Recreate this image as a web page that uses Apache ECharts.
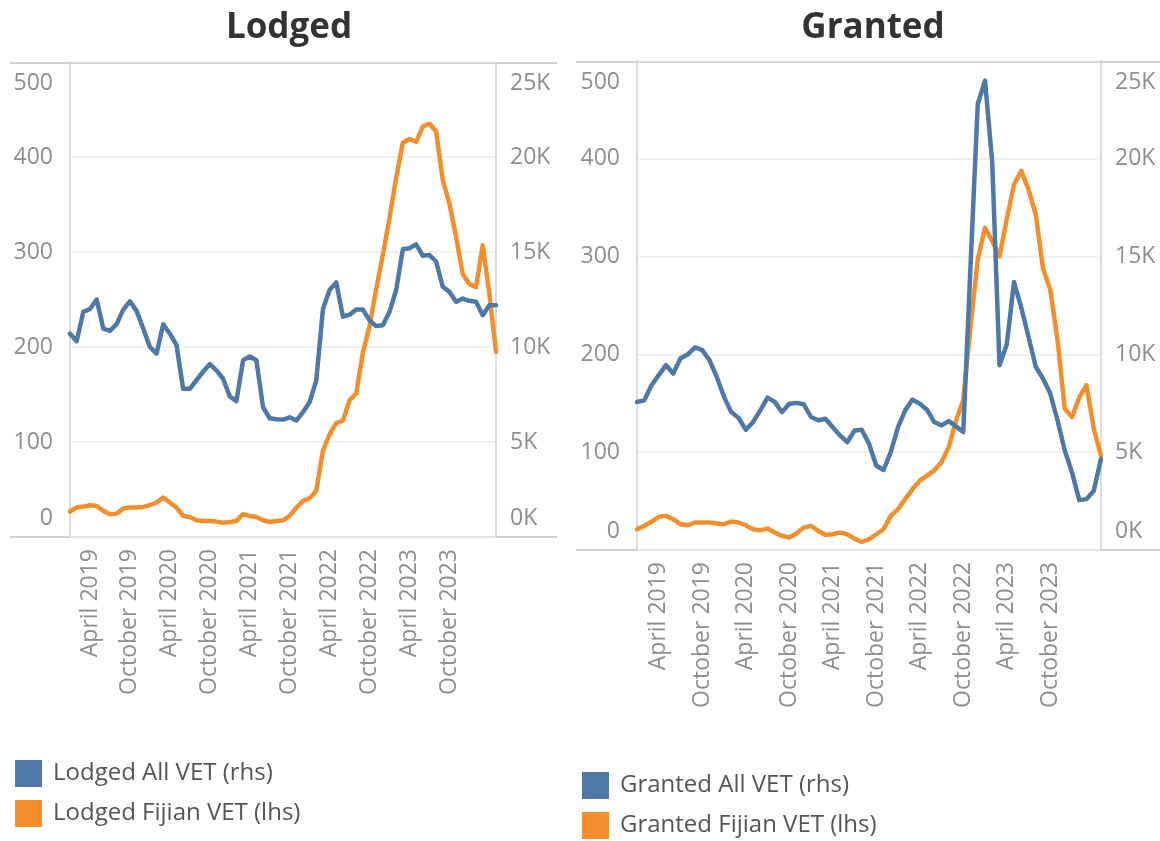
<!DOCTYPE html>
<html lang="en">
<head>
<meta charset="utf-8">
<title>Lodged / Granted VET</title>
<script src="https://cdn.jsdelivr.net/npm/echarts@6/dist/echarts.min.js"></script>
<style>
  html, body { margin: 0; padding: 0; background: #fff; }
  #main { width: 1160px; height: 841px; }
</style>
</head>
<body>
<div id="main"></div>
<script>
// monthly, Jan 2019 - May 2024
var months = [
  'January 2019', 'February 2019', 'March 2019', 'April 2019', 'May 2019', 'June 2019',
  'July 2019', 'August 2019', 'September 2019', 'October 2019', 'November 2019', 'December 2019',
  'January 2020', 'February 2020', 'March 2020', 'April 2020', 'May 2020', 'June 2020',
  'July 2020', 'August 2020', 'September 2020', 'October 2020', 'November 2020', 'December 2020',
  'January 2021', 'February 2021', 'March 2021', 'April 2021', 'May 2021', 'June 2021',
  'July 2021', 'August 2021', 'September 2021', 'October 2021', 'November 2021', 'December 2021',
  'January 2022', 'February 2022', 'March 2022', 'April 2022', 'May 2022', 'June 2022',
  'July 2022', 'August 2022', 'September 2022', 'October 2022', 'November 2022', 'December 2022',
  'January 2023', 'February 2023', 'March 2023', 'April 2023', 'May 2023', 'June 2023',
  'July 2023', 'August 2023', 'September 2023', 'October 2023', 'November 2023', 'December 2023',
  'January 2024', 'February 2024', 'March 2024', 'April 2024', 'May 2024'
];

// x labels that are printed
var tickLabels = [
  'April 2019', 'October 2019', 'April 2020', 'October 2020', 'April 2021',
  'October 2021', 'April 2022', 'October 2022', 'April 2023', 'October 2023'
];

// Lodged (rhs = all VET, lhs = Fijian VET)
var lodgedAll = [
  10700, 10300, 11850, 12000, 12500, 10970, 10850, 11200, 11970, 12400,
  11900, 10970, 10000, 9650, 11200, 10700, 10100, 7800, 7800, 8250,
  8700, 9100, 8770, 8330, 7400, 7150, 9300, 9500, 9300, 6830,
  6250, 6200, 6180, 6300, 6130, 6570, 7100, 8240, 12000, 13000,
  13400, 11600, 11700, 11970, 11970, 11400, 11100, 11150, 11850, 13000,
  15140, 15200, 15400, 14800, 14840, 14500, 13170, 12900, 12380, 12550,
  12430, 12380, 11670, 12200, 12200
];
var lodgedFijian = [
  26.8, 31, 32, 33.5, 32.7, 27.5, 24, 24.6, 30, 31,
  31, 31.7, 33.5, 36.3, 41.5, 36.3, 31, 22.2, 21, 17.6,
  16.9, 16.9, 16.2, 15.1, 15.8, 16.9, 24, 22.2, 21, 17.6,
  15.8, 16.9, 17.6, 22.2, 31, 38, 40.8, 48.6, 91, 108,
  120, 122.5, 144, 151, 194, 222, 261, 297, 336, 378,
  415, 419, 416, 432, 435, 427, 376, 351, 316, 277,
  266, 263, 307, 256, 195
];

// Granted
var grantedAll = [
  7570, 7650, 8420, 8940, 9450, 9020, 9800, 10000, 10360, 10220,
  9700, 8850, 7830, 7050, 6760, 6150, 6540, 7140, 7790, 7570,
  7050, 7480, 7520, 7450, 6800, 6630, 6710, 6280, 5860, 5510,
  6110, 6150, 5430, 4320, 4090, 5000, 6280, 7140, 7690, 7480,
  7170, 6540, 6370, 6590, 6320, 6030, 14500, 22800, 24000, 19800,
  9450, 10500, 13700, 12400, 10900, 9370, 8770, 8000, 6630, 5090,
  3970, 2550, 2600, 3030, 4660
];
var grantedFijian = [
  21.2, 24.7, 28.8, 33.9, 34.9, 31.5, 26.4, 25.3, 28.1, 28.1,
  28.1, 27, 26.4, 29.1, 28.1, 25.3, 21.2, 20.2, 21.9, 17.8,
  14.4, 12.7, 16.8, 22.9, 24.7, 19.5, 15.4, 16.1, 17.8, 16.1,
  11.6, 8.2, 11, 16.1, 21.2, 34.9, 41.8, 52, 62.3, 70.9,
  76, 81.2, 89.7, 105, 132.5, 153, 228, 297, 329.5, 315.8,
  300.3, 338, 374, 387.7, 368.8, 343, 288, 266, 215, 144.5,
  136, 156, 168.5, 124, 96.6
];

var BLUE = '#4e79a7', ORANGE = '#f28e2b';
var FONT = 'Open Sans';
var LABEL_GREY = '#8e8e8e';
var AXIS_GREY = '#d0d0d0';

var chart = echarts.init(document.getElementById('main'));

function xAxisFor(gi) {
  return {
    type: 'category',
    gridIndex: gi,
    data: months,
    boundaryGap: false,
    axisLine: { show: false },
    axisTick: { show: false },
    splitLine: { show: false },
    axisLabel: {
      rotate: 90,
      margin: 12,
      fontFamily: FONT,
      fontSize: 23,
      color: LABEL_GREY,
      interval: function (idx, val) { return tickLabels.indexOf(val) >= 0; }
    }
  };
}

// top label pushed down, bottom label pushed up, as in the source
function edgeRich() {
  return {
    top: { fontFamily: FONT, fontSize: 23, color: LABEL_GREY, padding: [42, 0, 0, 0] },
    bot: { fontFamily: FONT, fontSize: 23, color: LABEL_GREY, padding: [0, 0, 38, 0] }
  };
}

function yAxisFor(gi, pos, max, step, fmt, grid) {
  return {
    type: 'value',
    gridIndex: gi,
    position: pos,
    min: 0,
    max: max,
    interval: step,
    axisLine: { show: true, lineStyle: { color: AXIS_GREY, width: 1.5 } },
    axisTick: { show: false },
    splitLine: { show: grid, lineStyle: { color: '#ededed', width: 1.5 } },
    axisLabel: {
      margin: pos === 'left' ? 17 : 14,
      fontFamily: FONT,
      fontSize: 23,
      color: LABEL_GREY,
      rich: edgeRich(),
      formatter: function (v) {
        var s = fmt(v);
        if (v === max) return '{top|' + s + '}';
        if (v === 0) return '{bot|' + s + '}';
        return s;
      }
    }
  };
}

var lhsFmt = function (v) { return String(v); };
var rhsFmt = function (v) { return (v / 1000) + 'K'; };

function line(name, data, xi, yi, color) {
  return {
    name: name,
    type: 'line',
    xAxisIndex: xi,
    yAxisIndex: yi,
    data: data,
    showSymbol: false,
    symbol: 'none',
    lineStyle: { color: color, width: 4.5, join: 'round', cap: 'round' },
    itemStyle: { color: color },
    silent: true
  };
}

function frameLine(x1, x2, y) {
  return {
    type: 'line',
    shape: { x1: x1, y1: y, x2: x2, y2: y },
    style: { stroke: AXIS_GREY, lineWidth: 2 },
    silent: true
  };
}

function legendFor(names, top, left) {
  return {
    data: names,
    orient: 'vertical', left: left, top: top,
    padding: 0,
    icon: 'rect', itemWidth: 27, itemHeight: 27, itemGap: 13,
    selectedMode: false,
    textStyle: { fontFamily: FONT, fontSize: 24, color: '#555555', padding: [4, 0, 0, 6] }
  };
}

chart.setOption({
  backgroundColor: '#ffffff',
  animation: false,
  title: [
    { text: 'Lodged', left: 284, top: 6, textAlign: 'center',
      textStyle: { fontFamily: FONT, fontSize: 35, fontWeight: 'bold', color: '#333333' } },
    { text: 'Granted', left: 868, top: 6, textAlign: 'center',
      textStyle: { fontFamily: FONT, fontSize: 35, fontWeight: 'bold', color: '#333333' } }
  ],
  legend: [
    legendFor(['Lodged All VET (rhs)', 'Lodged Fijian VET (lhs)'], 760, 15),
    legendFor(['Granted All VET (rhs)', 'Granted Fijian VET (lhs)'], 772, 582)
  ],
  grid: [
    { left: 70, right: 664, top: 62, bottom: 304, outerBoundsMode: 'none' },
    { left: 637, right: 59, top: 61, bottom: 291, outerBoundsMode: 'none' }
  ],
  xAxis: [xAxisFor(0), xAxisFor(1)],
  yAxis: [
    yAxisFor(0, 'left', 500, 100, lhsFmt, true),
    yAxisFor(0, 'right', 25000, 5000, rhsFmt, false),
    yAxisFor(1, 'left', 500, 100, lhsFmt, true),
    yAxisFor(1, 'right', 25000, 5000, rhsFmt, false)
  ],
  graphic: [
    frameLine(10, 557, 63),
    frameLine(10, 557, 537),
    frameLine(576, 1160, 62),
    frameLine(576, 1160, 550)
  ],
  series: [
    line('Lodged Fijian VET (lhs)', lodgedFijian, 0, 0, ORANGE),
    line('Lodged All VET (rhs)', lodgedAll, 0, 1, BLUE),
    line('Granted Fijian VET (lhs)', grantedFijian, 1, 2, ORANGE),
    line('Granted All VET (rhs)', grantedAll, 1, 3, BLUE)
  ]
});
</script>
</body>
</html>
